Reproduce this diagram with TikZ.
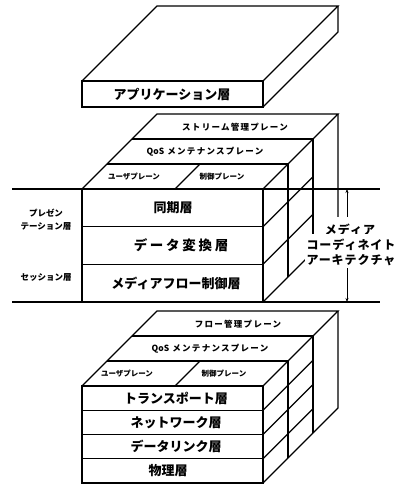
\documentclass[tikz,border=0pt]{standalone}
\usepackage{fontspec}
\setmainfont{Noto Sans CJK JP}
\usetikzlibrary{arrows.meta}
\begin{document}
\begin{tikzpicture}[x=1pt,y=-1pt,line width=1.3pt,line join=miter,
  lay/.style={font=\fontsize{13}{13}\selectfont\bfseries,inner sep=0pt},
  laywide/.style={font=\fontsize{13.5}{13.5}\selectfont\bfseries\addfontfeature{LetterSpace=20},inner sep=0pt},
  pl/.style={font=\fontsize{8.5}{8.5}\selectfont\bfseries\addfontfeature{LetterSpace=15},inner sep=0pt},
  plsmall/.style={font=\fontsize{7.5}{7.5}\selectfont\bfseries,inner sep=0pt},
  side/.style={font=\fontsize{8.5}{13}\selectfont\bfseries,inner sep=0pt,align=center},
  mca/.style={font=\fontsize{12}{12}\selectfont\bfseries\addfontfeature{LetterSpace=8},fill=white,inner xsep=2pt},
  dim/.style={line width=0.8pt,{Stealth[length=4pt,width=3pt]}-{Stealth[length=4pt,width=3pt]}}]
\useasboundingbox (0,0) rectangle (401,485);

% ---------- application slab ----------
\draw (82,81) rectangle (263,107);
\draw (82,81) -- (157,6) -- (338,6) -- (263,81);
\draw (338,6) -- (338,32) -- (263,107);
\node[lay] (app) at (172,94) {アプリケーション層};

% ---------- reference lines ----------
\coordinate (hl1) at (12,189);
\coordinate (hr1) at (380,189);
\coordinate (hl2) at (12,302);
\coordinate (hr2) at (380,302);
\draw (hl1) -- (hr1);
\draw (hl2) -- (hr2);

% ---------- middle block ----------
\draw (82,189) rectangle (263,302);
\draw (82,226.7) -- (263,226.7);
\draw (82,264.3) -- (263,264.3);
\draw (82,189) -- (157,114) -- (338,114) -- (263,189);
\draw (107,164) -- (288,164);
\draw (132,139) -- (313,139);
\draw (175,189) -- (200,164);
\draw (338,114) -- (338,227) -- (263,302);
\draw (288,164) -- (288,277);
\draw (313,139) -- (313,252);
\draw (263,226.7) -- (313,176.7);
\draw (263,264.3) -- (313,214.3);

\node[pl] (stream) at (235,127) {ストリーム管理プレーン};
\node[pl] (qos1) at (205,152) {{\addfontfeature{LetterSpace=0}QoS} メンテナンスプレーン};
\node[plsmall] (user1) at (134,177) {ユーザプレーン};
\node[plsmall] (ctrl1) at (222,177) {制御プレーン};
\node[lay] (sync) at (173,208) {同期層};
\node[laywide] (conv) at (181,245) {データ変換層};
\node[lay] (flowctl) at (176,283) {メディアフロー制御層};

\node[side] (pres) at (46,219.5) {プレゼン\\テーション層};
\node[side] (sess) at (46,277) {セッション層};

% dimension line
\coordinate (dtop) at (347,189);
\coordinate (dbot) at (347,302);
\draw[dim] (dtop) -- (dbot);

\node[mca,inner ysep=7pt] (mca1) at (350,230) {メディア};
\node[mca,inner ysep=5pt] (mca2) at (351,244.5) {コーディネイト};
\node[mca,inner ysep=2pt] (mca3) at (351,260) {アーキテクチャ};

% ---------- bottom block ----------
\draw (82,386) rectangle (263,483);
\draw (82,410.25) -- (263,410.25);
\draw (82,434.5) -- (263,434.5);
\draw (82,458.75) -- (263,458.75);
\draw (82,386) -- (157,311) -- (338,311) -- (263,386);
\draw (107,361) -- (288,361);
\draw (132,336) -- (313,336);
\draw (175,386) -- (200,361);
\draw (338,311) -- (338,408) -- (263,483);
\draw (288,361) -- (288,458);
\draw (313,336) -- (313,433);
\draw (263,410.25) -- (313,360.25);
\draw (263,434.5) -- (313,384.5);
\draw (263,458.75) -- (313,408.75);

\node[pl] (flowmgmt) at (238,324) {フロー管理プレーン};
\node[pl] (qos2) at (210,349) {{\addfontfeature{LetterSpace=0}QoS} メンテナンスプレーン};
\node[plsmall] (user2) at (127,374) {ユーザプレーン};
\node[plsmall] (ctrl2) at (224,374) {制御プレーン};
\node[lay] (trans) at (176,398) {トランスポート層};
\node[lay] (net) at (176,422.5) {ネットワーク層};
\node[lay] (link) at (176,446.5) {データリンク層};
\node[lay] (phys) at (168,471) {物理層};
\end{tikzpicture}
\end{document}
